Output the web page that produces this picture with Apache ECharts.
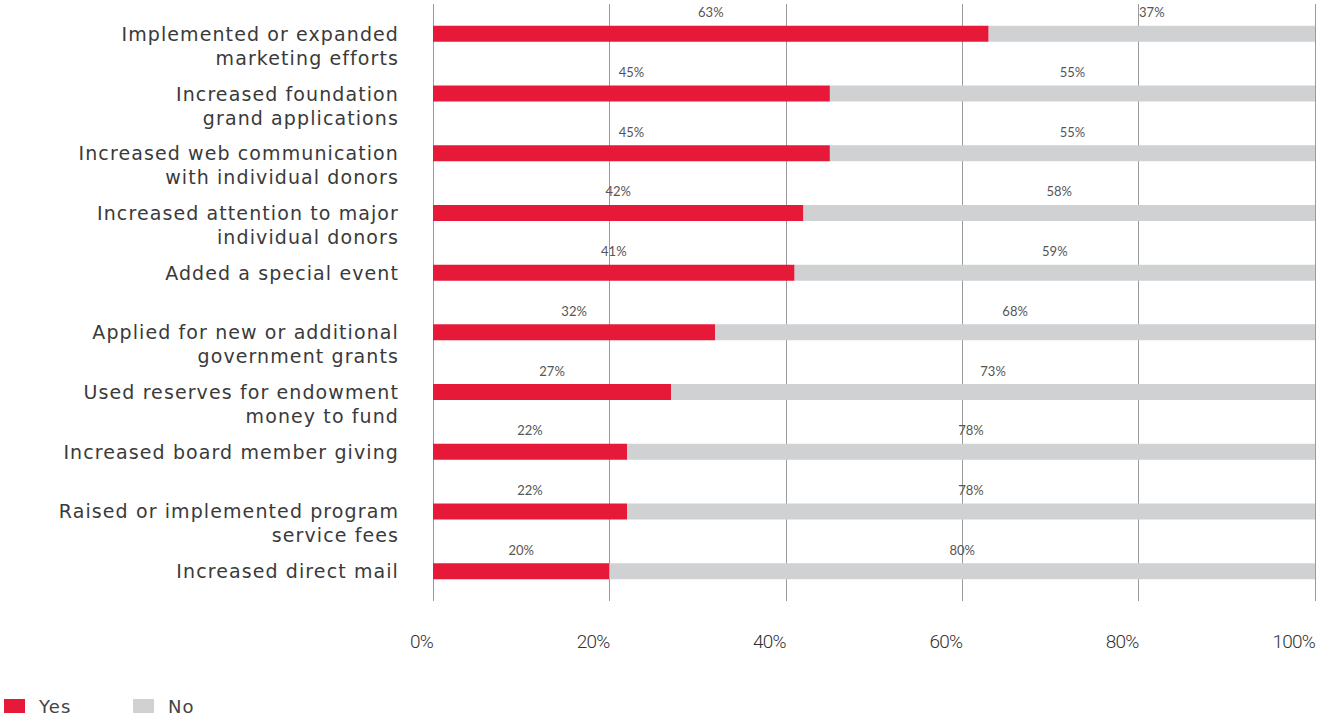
<!DOCTYPE html>
<html>
<head>
<meta charset="utf-8">
<style>
  html, body { margin: 0; padding: 0; background: #fff; }
  #chart { width: 1333px; height: 719px; }
  /* wide, airy lettering for category names and legend */
  #chart text[style*="DejaVu"], #chart text[font-family*="DejaVu"] { letter-spacing: 1.1px; }
  /* tight lettering for the percentage ticks */
  #chart text[style*="Roboto"], #chart text[font-family*="Roboto"] { letter-spacing: -0.8px; }
</style>
<script src="https://cdn.jsdelivr.net/npm/echarts@6/dist/echarts.min.js"></script>
</head>
<body>
<div id="chart"></div>
<script>
// Fundraising strategies, share of respondents (top row first)
const categories = [
  'Implemented or expanded\nmarketing efforts',
  'Increased foundation\ngrand applications',
  'Increased web communication\nwith individual donors',
  'Increased attention to major\nindividual donors',
  'Added a special event',
  'Applied for new or additional\ngovernment grants',
  'Used reserves for endowment\nmoney to fund',
  'Increased board member giving',
  'Raised or implemented program\nservice fees',
  'Increased direct mail'
];
const yesValues = [63, 45, 45, 42, 41, 32, 27, 22, 22, 20];
const noValues  = [37, 55, 55, 58, 59, 68, 73, 78, 78, 80];
const tickLabels = ['0%', '20%', '40%', '60%', '80%', '100%'];

const nameFont = '"DejaVu Sans", sans-serif';
const valueFont = 'Lato, "Open Sans", sans-serif';
const tickFont = 'Roboto, sans-serif';

// Category axis runs bottom-up, so reverse to keep the first item on top.
const cats = categories.slice().reverse();
const yes = yesValues.slice().reverse();
const no = noValues.slice().reverse();

const chart = echarts.init(document.getElementById('chart'), null, { renderer: 'svg' });

const valueLabel = {
  show: true,
  position: 'top',
  distance: 7,
  formatter: p => p.value + '%',
  color: '#555',
  fontFamily: valueFont,
  fontSize: 13
};

chart.setOption({
  animation: false,
  grid: { left: 433, right: 18, top: 4, bottom: 118, containLabel: false, outerBoundsMode: 'none' },
  legend: {
    left: 4,
    top: 697,
    padding: 0,
    itemWidth: 21,
    itemHeight: 14,
    itemGap: 65,
    icon: 'rect',
    textStyle: {
      fontFamily: nameFont, fontSize: 18, lineHeight: 18, color: '#444',
      padding: [0, 0, 0, 9]
    },
    data: ['Yes', 'No']
  },
  xAxis: {
    type: 'value',
    min: 0,
    max: 100,
    interval: 20,
    axisLine: { show: false },
    axisTick: { show: false },
    splitLine: { show: true, lineStyle: { color: '#9a9a9a', width: 1 } },
    axisLabel: {
      margin: 31,
      align: 'right',
      color: '#333',
      fontFamily: tickFont,
      fontSize: 19,
      fontWeight: 300,
      formatter: v => tickLabels[Math.round(v / 20)]
    }
  },
  yAxis: {
    type: 'category',
    data: cats,
    axisLine: { show: false },
    axisTick: { show: false },
    axisLabel: {
      interval: 0,
      hideOverlap: false,
      margin: 34,
      align: 'right',
      color: '#3a3a3a',
      fontFamily: nameFont,
      fontSize: 19,
      lineHeight: 24,
      showMinLabel: true,
      showMaxLabel: true,
      // keep the first line of a wrapped label level with its bar
      formatter: v => v.indexOf('\n') >= 0 ? '\n' + v : v
    }
  },
  series: [
    {
      name: 'Yes',
      type: 'bar',
      stack: 'total',
      barWidth: 16,
      data: yes,
      itemStyle: { color: '#E61A38' },
      label: valueLabel
    },
    {
      name: 'No',
      type: 'bar',
      stack: 'total',
      barWidth: 16,
      data: no,
      itemStyle: { color: '#D0D1D3' },
      label: valueLabel
    }
  ]
});
</script>
</body>
</html>
